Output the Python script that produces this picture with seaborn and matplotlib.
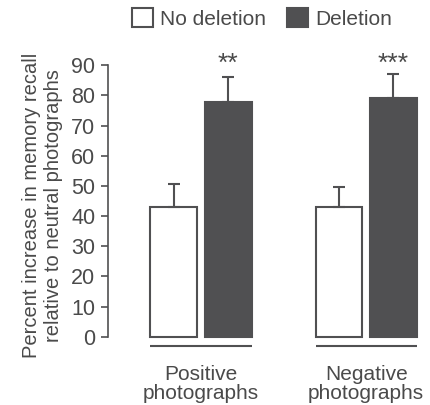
import numpy as np
import pandas as pd
import seaborn as sns
import matplotlib.pyplot as plt

categories = ['Positive\nphotographs', 'Negative\nphotographs']
conditions = ['No deletion', 'Deletion']
no_deletion = [43.0, 43.0]
deletion = [77.8, 79.2]
no_deletion_err = [7.5, 6.5]
deletion_err = [8.3, 7.9]
stars = ['**', '***']

sns.set_style('white')
plt.rcParams['font.family'] = ['Liberation Sans', 'DejaVu Sans']

grey = '#505052'
text_col = '#4a4a4a'

df = pd.DataFrame({
    'category': categories * 2,
    'condition': [conditions[0]] * 2 + [conditions[1]] * 2,
    'value': no_deletion + deletion,
})

fig = plt.figure(figsize=(4.3, 4.05), dpi=100)
ax = fig.add_axes([0.251, 0.131, 0.745, 0.723])

sns.barplot(data=df, x='category', y='value', hue='condition', hue_order=conditions,
            palette={'No deletion': 'white', 'Deletion': grey},
            edgecolor=grey, linewidth=1.5, width=0.66, gap=0.14,
            errorbar=None, ax=ax)

errs = [no_deletion_err, deletion_err]
for cont, err in zip(ax.containers, errs):
    for bar, e in zip(cont.patches, err):
        xc = bar.get_x() + bar.get_width() / 2
        h = bar.get_height()
        ax.errorbar([xc], [h], yerr=[[0], [e]], fmt='none', ecolor=grey,
                    elinewidth=1.5, capsize=4, capthick=1.5)

# significance stars
for bar, e, s in zip(ax.containers[1].patches, deletion_err, stars):
    xc = bar.get_x() + bar.get_width() / 2
    ax.text(xc, 90.5, s, ha='center', va='center', fontsize=19, color=text_col)

# group underline
for b0, b1 in zip(ax.containers[0].patches, ax.containers[1].patches):
    ax.plot([b0.get_x(), b1.get_x() + b1.get_width()], [-3, -3], color=grey,
            lw=1.5, clip_on=False, solid_capstyle='butt')

ax.set_ylim(-5, 92)
ax.set_xlim(-0.564, 1.376)
ax.set_yticks(range(0, 91, 10))
for sp in ['top', 'right', 'bottom']:
    ax.spines[sp].set_visible(False)
ax.spines['left'].set_bounds(0, 90)
ax.spines['left'].set_color(grey)
ax.spines['left'].set_linewidth(1.2)
ax.tick_params(axis='y', left=True, length=5, width=1.2, color=grey, pad=4,
               labelsize=15.5, labelcolor=text_col)
ax.tick_params(axis='x', bottom=False, pad=6, labelsize=15, labelcolor=text_col)
for lab in ax.get_xticklabels():
    lab.set_linespacing(1.0)
ax.set_xlabel('')
ax.set_ylabel('Percent increase in memory recall\nrelative to neutral photographs',
              fontsize=14.5, color=text_col, linespacing=1.2, labelpad=6)

sns.move_legend(ax, 'upper center', bbox_to_anchor=(0.61, 1.01), bbox_transform=fig.transFigure,
                ncol=2, frameon=False, title=None, fontsize=15, handlelength=1.0,
                handleheight=1.0, columnspacing=1.0, handletextpad=0.35,
                borderaxespad=0.2)
for t in ax.get_legend().get_texts():
    t.set_color(text_col)

fig.savefig('out.png', dpi=100, facecolor='white')
